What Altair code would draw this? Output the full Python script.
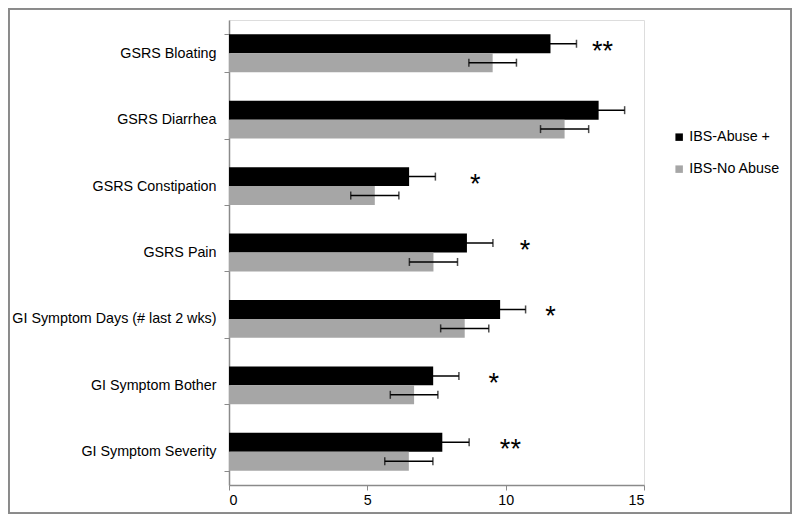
import altair as alt
import pandas as pd

categories = [
    "GSRS Bloating",
    "GSRS Diarrhea",
    "GSRS Constipation",
    "GSRS Pain",
    "GI Symptom Days (# last 2 wks)",
    "GI Symptom Bother",
    "GI Symptom Severity",
]
series = ["IBS-Abuse +", "IBS-No Abuse"]
abuse_vals = [11.62, 13.36, 6.51, 8.60, 9.80, 7.38, 7.71]
abuse_err = [0.94, 0.94, 0.95, 0.94, 0.92, 0.93, 0.97]
noabuse_vals = [9.53, 12.13, 5.27, 7.39, 8.52, 6.69, 6.50]
noabuse_err = [0.86, 0.87, 0.87, 0.87, 0.87, 0.86, 0.87]
star_labels = ["**", "", "*", "*", "*", "*", "**"]
star_x = [13.5, None, 8.9, 10.7, 11.62, 9.57, 10.17]

rows = []
for i, c in enumerate(categories):
    rows.append({"cat": c, "series": series[0], "value": abuse_vals[i],
                 "lo": abuse_vals[i] - abuse_err[i], "hi": abuse_vals[i] + abuse_err[i]})
    rows.append({"cat": c, "series": series[1], "value": noabuse_vals[i],
                 "lo": noabuse_vals[i] - noabuse_err[i], "hi": noabuse_vals[i] + noabuse_err[i]})
df = pd.DataFrame(rows)

stars = pd.DataFrame([
    {"cat": c, "series": series[0], "x": star_x[i], "label": star_labels[i]}
    for i, c in enumerate(categories) if star_labels[i]
])

FONT = "Liberation Sans"
AXIS_GRAY = "#8a8a8a"

y_enc = alt.Y("cat:N", sort=categories,
              scale=alt.Scale(paddingInner=0.43, paddingOuter=0.215),
              axis=alt.Axis(title=None, tickBand="extent", domainColor=AXIS_GRAY,
                            tickColor=AXIS_GRAY, tickSize=5, labelPadding=8,
                            labelFont=FONT, labelFontSize=14.3, labelColor="#000000",
                            labelLimit=0, domainWidth=1.5, tickWidth=1))
yoff = alt.YOffset("series:N", sort=series, scale=alt.Scale(paddingInner=0, paddingOuter=0))
x_scale = alt.Scale(domain=[0, 15], nice=False, zero=True)
x_axis = alt.Axis(title=None, values=[0, 5, 10, 15], grid=False, domainColor=AXIS_GRAY,
                  tickColor=AXIS_GRAY, tickSize=5, labelPadding=3, labelFont=FONT,
                  labelFontSize=14.3, labelColor="#000000", domainWidth=1.5, tickWidth=1)

base = alt.Chart(df)

bars = base.mark_bar(height={"band": 1}).encode(
    x=alt.X("value:Q", scale=x_scale, axis=x_axis),
    y=y_enc,
    yOffset=yoff,
    color=alt.Color("series:N", sort=series,
                    scale=alt.Scale(domain=series, range=["#000000", "#a6a6a6"]),
                    legend=alt.Legend(title=None, orient="none", legendX=443, legendY=110,
                                      symbolType="square", symbolSize=56,
                                      symbolStrokeWidth=0, labelFont=FONT,
                                      labelFontSize=14.3, labelColor="#000000",
                                      rowPadding=17, labelOffset=3)),
)

rules = base.mark_rule(color="#000000", strokeWidth=1.5).encode(
    x="lo:Q", x2="hi:Q", y=alt.Y("cat:N", sort=categories), yOffset=yoff,
)
caps_lo = base.mark_tick(color="#000000", thickness=1.5, size=8).encode(
    x="lo:Q", y=alt.Y("cat:N", sort=categories), yOffset=yoff,
)
caps_hi = base.mark_tick(color="#000000", thickness=1.5, size=8).encode(
    x="hi:Q", y=alt.Y("cat:N", sort=categories), yOffset=yoff,
)

text = alt.Chart(stars).mark_text(font=FONT, fontSize=27, color="#000000",
                                  baseline="middle", align="center", dy=8).encode(
    x="x:Q", y=alt.Y("cat:N", sort=categories),
    yOffset=alt.YOffset("series:N", sort=series),
    text="label:N",
)

frame = alt.Chart(df).mark_rect(fill=None, stroke="#8a8a8a", strokeWidth=1.5).encode(
    x=alt.value(-220.5), x2=alt.value(415 + 147.5),
    y=alt.value(-11.5), y2=alt.value(465 + 28.5),
)

chart = alt.layer(frame, bars, rules, caps_lo, caps_hi, text).properties(
    width=415, height=465,
    padding={"left": 221, "top": 12, "right": 148, "bottom": 29},
    autosize="none",
).configure_view(stroke=None).configure(background="white")

chart.save("out.html", embed_options={"renderer": "svg", "actions": False})
